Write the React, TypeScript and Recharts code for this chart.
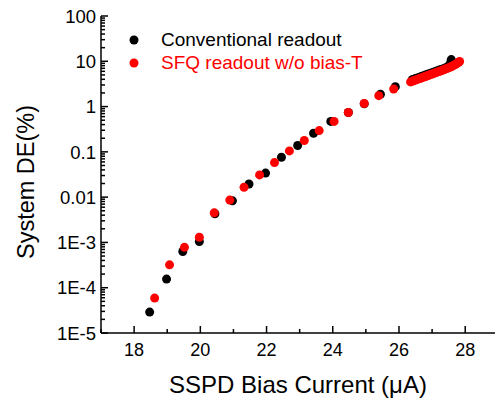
import React from 'react';
import { ScatterChart, Scatter, XAxis, YAxis, Legend } from 'recharts';

// Conventional readout (black)
const convX = [18.47, 18.98, 19.47, 19.97, 20.44, 20.97, 21.47, 21.97, 22.45, 22.94, 23.42, 23.94, 24.47, 24.95, 25.44, 25.89,
  26.4, 26.45, 26.5, 26.56, 26.62, 26.68, 26.74, 26.8, 26.86, 26.92, 26.98, 27.04, 27.1, 27.16, 27.22, 27.28, 27.34, 27.4, 27.46, 27.52, 27.56, 27.58];
const convY = [2.9e-5, 1.55e-4, 6.3e-4, 1.05e-3, 4.3e-3, 8.3e-3, 0.0195, 0.034, 0.076, 0.138, 0.257, 0.47, 0.74, 1.15, 1.87, 2.75,
  3.9, 4.02, 4.15, 4.3, 4.45, 4.62, 4.78, 4.95, 5.14, 5.32, 5.5, 5.72, 5.93, 6.15, 6.38, 6.62, 6.88, 7.15, 7.5, 8.2, 9.3, 10.9];

// SFQ readout w/o bias-T (red)
const sfqX = [18.62, 19.07, 19.52, 19.97, 20.42, 20.89, 21.32, 21.79, 22.24, 22.69, 23.14, 23.59, 24.04, 24.47, 24.95, 25.39, 25.84,
  26.35, 26.4, 26.45, 26.5, 26.55, 26.6, 26.65, 26.7, 26.75, 26.8, 26.85, 26.9, 26.95, 27.0, 27.05, 27.1, 27.15, 27.2, 27.25, 27.3, 27.35, 27.4, 27.45, 27.5, 27.55, 27.6, 27.65, 27.7, 27.75, 27.8, 27.83];
const sfqY = [5.9e-5, 3.2e-4, 7.8e-4, 1.3e-3, 4.5e-3, 8.6e-3, 0.0165, 0.031, 0.058, 0.105, 0.178, 0.295, 0.47, 0.74, 1.17, 1.74, 2.45,
  3.5, 3.62, 3.75, 3.85, 3.98, 4.1, 4.22, 4.35, 4.5, 4.62, 4.78, 4.92, 5.08, 5.22, 5.4, 5.55, 5.75, 5.92, 6.1, 6.3, 6.5, 6.72, 6.95, 7.2, 7.45, 7.75, 8.1, 8.5, 8.95, 9.5, 9.9];

const seriesNames = ['Conventional readout', 'SFQ readout w/o bias-T'];
const seriesColors = ['#000000', '#ff0000'];

const xTicks = [17, 18, 19, 20, 21, 22, 23, 24, 25, 26, 27, 28];
const xMajorTicks = [18, 20, 22, 24, 26, 28];
const yMajorTicks = [1e-5, 1e-4, 1e-3, 0.01, 0.1, 1, 10, 100];
const yMajorLabels = ['1E-5', '1E-4', '1E-3', '0.01', '0.1', '1', '10', '100'];
const yMinorMultipliers = [2, 3, 4, 5, 6, 7, 8, 9];

const yTicks: number[] = [];
yMajorTicks.forEach((t, i) => {
  yTicks.push(t);
  if (i < yMajorTicks.length - 1) yMinorMultipliers.forEach((m) => yTicks.push(t * m));
});

const convData = convX.map((x, i) => ({ x, y: convY[i] }));
const sfqData = sfqX.map((x, i) => ({ x, y: sfqY[i] }));

const FONT = '"Liberation Sans", Arial, Helvetica, sans-serif';
const MAJOR = 7;
const MINOR = 4;
const SW = 1.5;

const yMajorIndex = (v: number) => yMajorTicks.findIndex((t) => Math.abs(Math.log10(t) - Math.log10(v)) < 1e-6);

const BottomTick = (props: any) => {
  const { x, y, payload } = props;
  const v = payload.value;
  const major = xMajorTicks.includes(v);
  return (
    <g>
      <line x1={x} y1={y} x2={x} y2={y - (major ? MAJOR : MINOR)} stroke="#000" strokeWidth={SW} />
      {major && (
        <text x={x} y={y + 23} textAnchor="middle" fontSize={18} fontFamily={FONT} fill="#000">{v}</text>
      )}
    </g>
  );
};

const TopTick = (props: any) => {
  const { x, y, payload } = props;
  const major = xMajorTicks.includes(payload.value);
  return <line x1={x} y1={y} x2={x} y2={y + (major ? MAJOR : MINOR)} stroke="#000" strokeWidth={SW} />;
};

const LeftTick = (props: any) => {
  const { x, y, payload } = props;
  const idx = yMajorIndex(payload.value);
  const major = idx >= 0;
  return (
    <g>
      <line x1={x} y1={y} x2={x + (major ? MAJOR : MINOR)} y2={y} stroke="#000" strokeWidth={SW} />
      {major && (
        <text x={x - 5} y={y} dy="0.36em" textAnchor="end" fontSize={18.5} fontFamily={FONT} fill="#000">{yMajorLabels[idx]}</text>
      )}
    </g>
  );
};

const RightTick = (props: any) => {
  const { x, y, payload } = props;
  const major = yMajorIndex(payload.value) >= 0;
  return <line x1={x} y1={y} x2={x - (major ? MAJOR : MINOR)} y2={y} stroke="#000" strokeWidth={SW} />;
};

const LegendContent = () => (
  <div style={{ position: 'relative', width: 497, height: 0 }}>
    {seriesNames.map((n, i) => (
      <div
        key={n}
        style={{
          position: 'absolute', left: 129, top: 29 + i * 23, height: 22, display: 'flex', alignItems: 'center',
          whiteSpace: 'nowrap', fontFamily: FONT, fontSize: 19, color: seriesColors[i],
        }}
      >
        <svg width={10} height={10} style={{ marginRight: 22, display: 'block' }}>
          <circle cx={5} cy={5} r={4.5} fill={seriesColors[i]} />
        </svg>
        <span>{n}</span>
      </div>
    ))}
  </div>
);

const dot = (color: string) => (p: any) => <circle cx={p.cx} cy={p.cy} r={4.5} fill={color} />;

export default function App() {
  return (
    <div style={{ position: 'absolute', left: 0, top: 0, width: 497, height: 400, background: '#fff' }}>
      <ScatterChart width={497} height={400} margin={{ top: 16, right: 2, bottom: 0, left: 0 }}>
        <XAxis
          xAxisId="b" dataKey="x" type="number" domain={[17, 28.9]} allowDataOverflow ticks={xTicks} interval={0}
          orientation="bottom" height={67} tickSize={0} tickMargin={0} tickLine={false} tick={<BottomTick />}
          axisLine={{ stroke: '#000', strokeWidth: SW }}
          label={{
            content: () => (
              <text x={298} y={393} textAnchor="middle" fontSize={24} fontFamily={FONT} fill="#000">SSPD Bias Current (μA)</text>
            ),
          }}
        />
        <XAxis
          xAxisId="t" dataKey="x" type="number" domain={[17, 28.9]} allowDataOverflow ticks={xTicks} interval={0}
          orientation="top" height={0} tickSize={0} tickMargin={0} tickLine={false} tick={<TopTick />}
          axisLine={{ stroke: '#000', strokeWidth: SW }}
        />
        <YAxis
          yAxisId="l" dataKey="y" type="number" scale="log" domain={[1e-5, 100]} allowDataOverflow ticks={yTicks} interval={0}
          orientation="left" width={101} tickSize={0} tickMargin={0} tickLine={false} tick={<LeftTick />}
          axisLine={{ stroke: '#000', strokeWidth: SW }}
          label={{
            content: () => (
              <text transform="translate(26,182) rotate(-90)" textAnchor="middle" dy="0.36em" fontSize={23.5} fontFamily={FONT} fill="#000">System DE(%)</text>
            ),
          }}
        />
        <YAxis
          yAxisId="r" dataKey="y" type="number" scale="log" domain={[1e-5, 100]} allowDataOverflow ticks={yTicks} interval={0}
          orientation="right" width={0} tickSize={0} tickMargin={0} tickLine={false} tick={<RightTick />}
          axisLine={{ stroke: '#000', strokeWidth: SW }}
        />
        <Legend
          layout="vertical" align="center" verticalAlign="middle"
          wrapperStyle={{ position: 'absolute', left: 0, top: 0, width: 497, height: 0 }}
          content={<LegendContent />}
        />
        <Scatter name={seriesNames[0]} data={convData} xAxisId="b" yAxisId="l" fill={seriesColors[0]} shape={dot(seriesColors[0])} isAnimationActive={false} />
        <Scatter name={seriesNames[1]} data={sfqData} xAxisId="b" yAxisId="l" fill={seriesColors[1]} shape={dot(seriesColors[1])} isAnimationActive={false} />
      </ScatterChart>
    </div>
  );
}
